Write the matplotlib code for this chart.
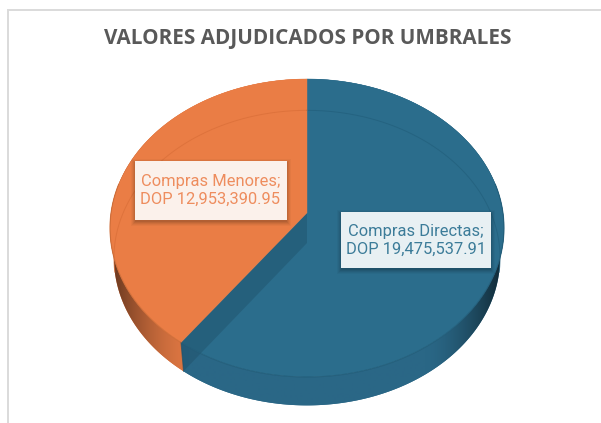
import numpy as np
import matplotlib
matplotlib.use("Agg")
import matplotlib.pyplot as plt
from matplotlib.colors import to_rgb
from matplotlib.patches import Rectangle, Polygon

title = "VALORES ADJUDICADOS POR UMBRALES"
categories = ["Compras Directas", "Compras Menores"]
values = [19475537.91, 12953390.95]
currency = "DOP"

top_colors = ["#2B6D8C", "#EA7D45"]
wall_colors = ["#2A6786", "#DD7642"]
arc_colors = ["#225F7C", "#D96E38"]
text_colors = ["#3C7C99", "#EE8D5E"]
box_colors = ["#E8F0F3", "#FBF1EB"]
box_rects = [(341, 212, 150, 56), (135, 161, 152, 59)]
text_pos = [(416, 240.5), (210.5, 190.5)]

# Pixel layout of the tilted pie: circle seen through a perspective homography
CX, CY, A, B, K = 307.0, 213.0, 147.5, 196.0, 0.1007
DEPTH, XS, YS = 30.0, 0.98, 0.99

fig = plt.figure(figsize=(6.01, 4.23), dpi=100)
ax = fig.add_axes([0, 0, 1, 1])
ax.axis("off")


def top_pt(theta):
    u, v = np.sin(theta), np.cos(theta)
    w = 1 + K * v
    return CX + B * u / w, CY - A * v / w


def low_pt(theta):
    x, y = top_pt(theta)
    return CX + (x - CX) * XS, CY + DEPTH + (y - CY) * YS


def apex(low=False):
    return (CX, CY + DEPTH) if low else (CX, CY)


# chart frame
ax.plot([601, 8, 8], [10.5, 10.5, 423], color="#DADADA", lw=1.4, solid_joinstyle="miter", zorder=1)

fractions = np.array(values) / np.sum(values)
edges = np.concatenate([[0], np.cumsum(fractions)]) * 2 * np.pi

# side walls: horizontal shading clipped to the wall outline
gx = np.linspace(100, 514, 415)
for i in range(len(values)):
    ths = np.linspace(edges[i], edges[i + 1], 500)
    tx, ty = top_pt(ths)
    lx, ly = low_pt(ths)
    outline = np.column_stack([np.r_[tx, lx[::-1]], np.r_[ty, ly[::-1]]])
    clip = Polygon(outline, closed=True, fc=wall_colors[i], ec="none", zorder=2)
    ax.add_patch(clip)
    t = np.clip((np.abs(gx - CX) / 197 - 0.6) / 0.4, 0, 1) ** 1.6
    strength = 0.62 if i == 0 else 0.55
    rgb = np.outer(1 - strength * t, np.array(to_rgb(wall_colors[i])))
    im = ax.imshow(rgb[None, :, :], extent=(100, 514, 420, 60), aspect="auto",
                   interpolation="bilinear", zorder=2.1)
    im.set_clip_path(clip)

ax.set_xlim(0, 601)
ax.set_ylim(423, 0)

# top faces
for i in range(len(values)):
    ths = np.linspace(edges[i], edges[i + 1], 400)
    x, y = top_pt(ths)
    pts = np.column_stack([np.r_[CX, x], np.r_[CY, y]])
    ax.add_patch(Polygon(pts, closed=True, fc=top_colors[i], ec=top_colors[i], lw=0.3, zorder=3))

# cut wall of the slice boundary, seen through the blue top
b_th = edges[1]
band = [apex(), top_pt(b_th), low_pt(b_th), apex(True)]
ax.add_patch(Polygon(band, closed=True, fc="#1F4E66", ec="none", alpha=0.42, zorder=4))
ax.plot(*zip(top_pt(b_th), low_pt(b_th)), color="#1F4E66", lw=0.7, alpha=0.7, zorder=4)

# see-through rim lines
for i in range(len(values)):
    ths = np.linspace(edges[i], edges[i + 1], 400)
    lx, ly = low_pt(ths)
    back = np.cos(ths) > -0.2
    ax.plot(lx[back], ly[back], color=arc_colors[i], lw=0.7, alpha=0.7, zorder=5)
    tx, ty = top_pt(ths)
    front = np.cos(ths) < 0.2
    ax.plot(tx[front], ty[front], color="#205A76" if i == 0 else "#C96A35", lw=0.8, alpha=0.75, zorder=5)

# data labels
for i, cat in enumerate(categories):
    x0, y0, w, h = box_rects[i]
    for off, al in [(5, 0.03), (4, 0.04), (3, 0.05), (2, 0.06), (1, 0.07)]:
        ax.add_patch(Rectangle((x0 - off + 1, y0 - off + 3), w + 2 * off - 2, h + 2 * off - 2,
                               fc="#000000", ec="none", alpha=al, zorder=6))
    ax.add_patch(Rectangle((x0, y0), w, h, fc=box_colors[i], ec="none", zorder=7))
    ax.text(*text_pos[i], f"{cat};\n{currency} {values[i]:,.2f}", color=text_colors[i],
            family="Roboto", fontsize=11.9, ha="center", va="center",
            linespacing=1.27, zorder=8)

ax.text(307.5, 38.5, title, color="#595959", family="Open Sans", weight="bold",
        fontsize=14.9, ha="center", va="center", zorder=8)

fig.savefig("out.png", dpi=100)
